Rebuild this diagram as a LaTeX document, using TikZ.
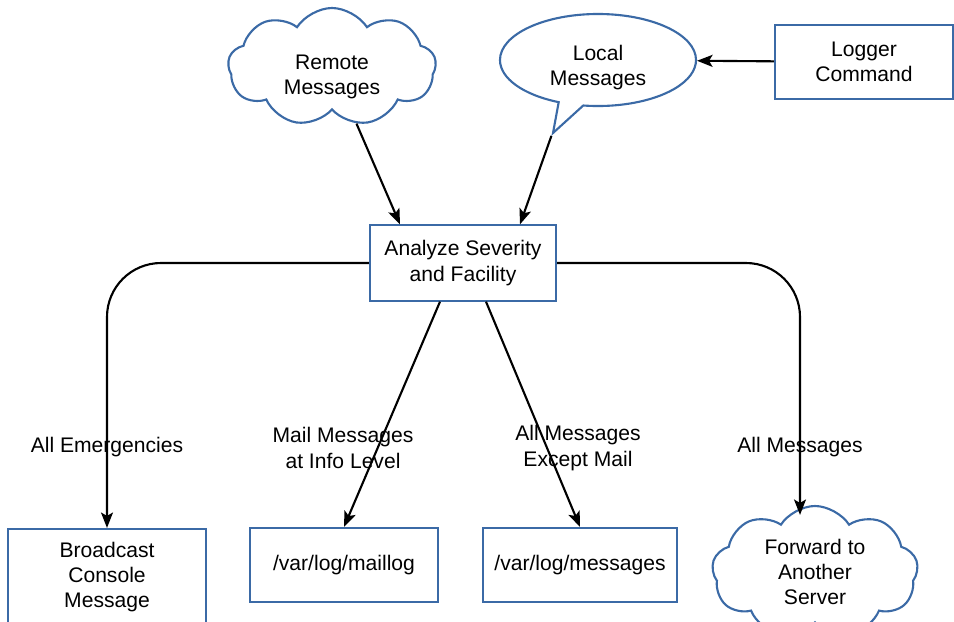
\documentclass[tikz,border=0pt]{standalone}
\usepackage{fontspec}
\setmainfont{Liberation Sans}
\usepackage{tikz}
\usetikzlibrary{arrows.meta,calc,shapes.symbols,shapes.callouts}
\definecolor{edgeblue}{HTML}{3B6AA6}

% text set lower than the middle of its shape
\newcommand{\droptext}[2]{\smash{\raisebox{-#1}{\begin{tabular}{@{}c@{}}#2\end{tabular}}}}

\tikzset{
  flowbox/.style={draw=edgeblue,line width=1.5pt,fill=white,align=center,
    inner sep=2pt},
  puffy/.style={cloud,cloud puffs=9,cloud puff arc=115,cloud ignores aspect,
    draw=edgeblue,line width=1.5pt,fill=white,align=center,inner sep=0pt},
  flow/.style={-{Stealth[length=11pt,width=8.5pt,inset=2.5pt]},line width=1.5pt},
  lbl/.style={align=center,inner sep=1pt}
}

\begin{document}
\begin{tikzpicture}[x=0.025cm,y=-0.025cm,
    font=\fontsize{15}{18}\selectfont]
    \useasboundingbox (0,0) rectangle (954,621);
    % sources
    \node[puffy,minimum width=5.2cm,minimum height=2.95cm] (remote) at (332,67)
      {\droptext{10.5pt}{Remote\\Messages}};
    \node[ellipse callout,draw=edgeblue,line width=1.5pt,fill=white,align=center,
      minimum width=4.9cm,minimum height=2.3cm,
      callout absolute pointer={(553,133)}] (local) at (598,60)
      {\droptext{9pt}{Local\\Messages}};
    \node[flowbox,minimum width=4.45cm,minimum height=1.85cm] (logger) at (864,62) {Logger\\Command};
    % filter
    \node[flowbox,minimum width=4.65cm,minimum height=1.88cm] (ana) at (463,263) {Analyze Severity\\and Facility};
    % destinations
    \node[flowbox,minimum width=4.95cm,minimum height=2.4cm] (broad) at (107,577) {Broadcast\\Console\\Message};
    \node[flowbox,minimum width=4.7cm,minimum height=1.85cm] (mail) at (344,565) {/var/log/maillog};
    \node[flowbox,minimum width=4.85cm,minimum height=1.85cm] (msgs) at (580,565) {/var/log/messages};
    \node[puffy,minimum width=5.15cm,minimum height=3.3cm] (fwd) at (815,572) {Forward to\\Another\\Server};

    \draw[flow] (logger) -- (local);
    \draw[flow] (remote) -- ($(ana.north)+(-63,0)$);
    \draw[flow] (local.pointer) -- ($(ana.north)+(57,0)$);

    \draw[flow,rounded corners=1.35cm] (ana.west) -| (broad.north);
    \draw[flow,rounded corners=1.35cm] (ana.east) -| ($(fwd.north)+(-15,10)$);
    \draw[flow] ($(ana.south)+(-23,0)$) -- (mail.north);
    \draw[flow] ($(ana.south)+(23,0)$) -- (msgs.north);

    \node[lbl] (emerg) at (107,447) {All Emergencies};
    \node[lbl] (infomail) at (343,448) {Mail Messages\\at Info Level};
    \node[lbl] (nomail) at (578,448) {All Messages\\Except Mail};
    \node[lbl] (allmsg) at (800,447) {All Messages};
\end{tikzpicture}
\end{document}
